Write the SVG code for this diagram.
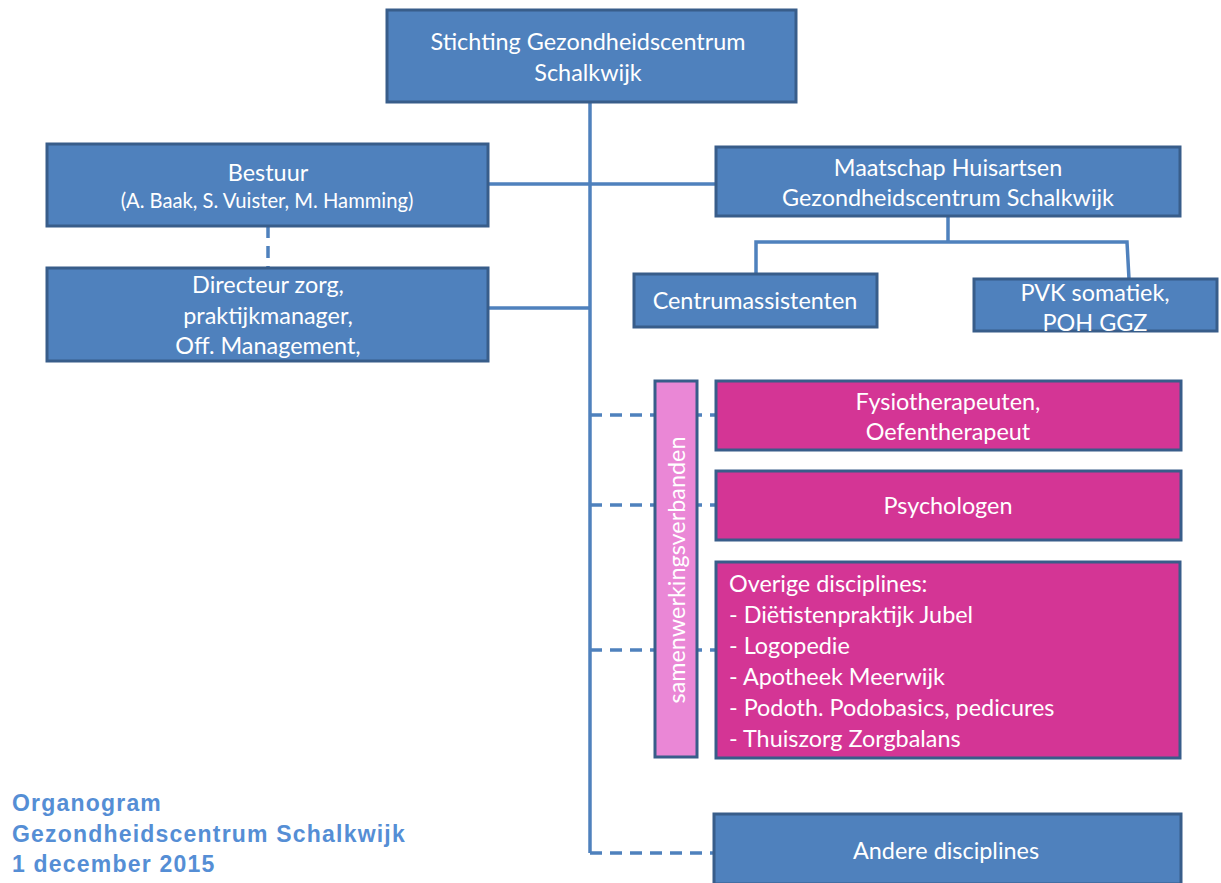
<svg xmlns="http://www.w3.org/2000/svg" width="1221" height="883" viewBox="0 0 1221 883">
<style>
.b{fill:#4F81BD;stroke:#385D8A;stroke-width:3}
.m{fill:#D43595;stroke:#385D8A;stroke-width:3}
.p{fill:#EA87D6;stroke:#385D8A;stroke-width:3}
.t{font-family:Lato,"Open Sans",sans-serif;font-size:23.4px;fill:#fff;text-anchor:middle}
.l{text-anchor:start}
.s{font-size:20.2px}
.c{fill:none;stroke:#4F81BD;stroke-width:3.5}
.d{stroke-dasharray:12 8}
.h{font-family:"Liberation Sans",Arial,sans-serif;font-weight:bold;font-size:23px;letter-spacing:1.2px;fill:#558ED5}
</style>
<rect width="1221" height="883" fill="#fff"/>
<g id="connectors">
<path class="c" d="M590 102V853"/>
<path class="c" d="M488 184H716"/>
<path class="c" d="M488 308H590"/>
<path class="c d" d="M268 226V268"/>
<path class="c" d="M948 216V242M756 274V242H1127L1129 279"/>
<path class="c d" d="M590 415H716"/>
<path class="c d" d="M590 505H716"/>
<path class="c d" d="M590 650H716"/>
<path class="c d" d="M590 853H714"/>
</g>
<g id="stichting"><rect class="b" x="387" y="10" width="409" height="92"/>
<text class="t" x="588" y="50">Stichting Gezondheidscentrum</text><text class="t" x="588" y="81">Schalkwijk</text></g>
<g id="bestuur"><rect class="b" x="47" y="144" width="441" height="82"/>
<text class="t" x="268" y="181">Bestuur</text><text class="t s" x="267" y="208">(A. Baak, S. Vuister, M. Hamming)</text></g>
<g id="directeur"><rect class="b" x="47" y="268" width="441" height="93"/>
<text class="t" x="268" y="293">Directeur zorg,</text><text class="t" x="268" y="324">praktijkmanager,</text><text class="t" x="268" y="354">Off. Management,</text></g>
<g id="maatschap"><rect class="b" x="716" y="147" width="464" height="69"/>
<text class="t" x="948" y="176">Maatschap Huisartsen</text><text class="t" x="948" y="206">Gezondheidscentrum Schalkwijk</text></g>
<g id="centrum"><rect class="b" x="634" y="274" width="243" height="53"/>
<text class="t" x="755" y="309">Centrumassistenten</text></g>
<g id="pvk"><rect class="b" x="974" y="279" width="243" height="52"/>
<text class="t" x="1095" y="301">PVK somatiek,</text><text class="t" x="1095" y="331">POH GGZ</text></g>
<g id="samenwerking"><rect class="p" x="655" y="381" width="42" height="376"/>
<text class="t" transform="translate(685 570) rotate(-90)">samenwerkingsverbanden</text></g>
<g id="fysio"><rect class="m" x="716" y="381" width="465" height="69"/>
<text class="t" x="948" y="410">Fysiotherapeuten,</text><text class="t" x="948" y="440">Oefentherapeut</text></g>
<g id="psych"><rect class="m" x="716" y="471" width="465" height="69"/>
<text class="t" x="948" y="514">Psychologen</text></g>
<g id="overige"><rect class="m" x="716" y="562" width="464" height="196"/>
<text class="t l" x="729" y="592">Overige disciplines:</text>
<text class="t l" x="729" y="623">- Diëtistenpraktijk Jubel</text>
<text class="t l" x="729" y="654">- Logopedie</text>
<text class="t l" x="729" y="685">- Apotheek Meerwijk</text>
<text class="t l" x="729" y="716">- Podoth. Podobasics, pedicures</text>
<text class="t l" x="729" y="747">- Thuiszorg Zorgbalans</text></g>
<g id="andere"><rect class="b" x="714" y="814" width="467" height="70"/>
<text class="t" x="946" y="859">Andere disciplines</text></g>
<g id="titel">
<text class="h" x="12" y="811">Organogram</text>
<text class="h" x="12" y="842">Gezondheidscentrum Schalkwijk</text>
<text class="h" x="12" y="872">1 december 2015</text></g>
</svg>
